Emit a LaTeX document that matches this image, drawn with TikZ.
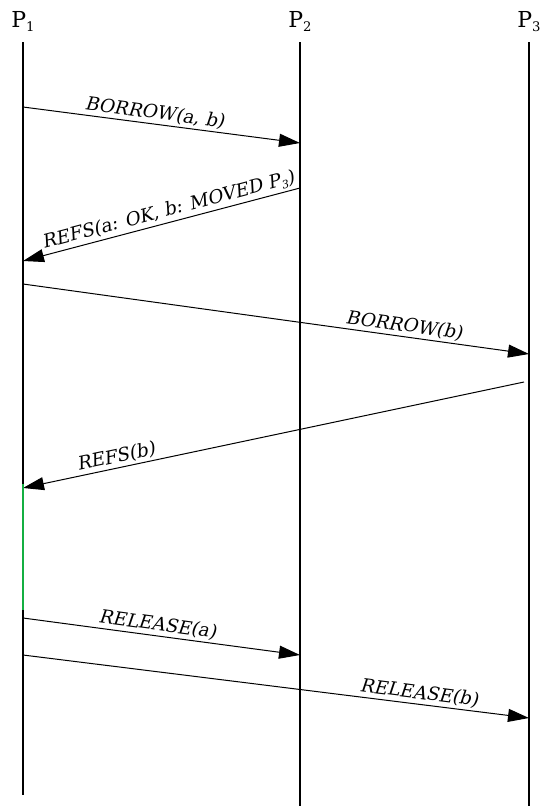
\documentclass[tikz,border=0pt]{standalone}
\usepackage{fontspec}
\setmainfont{DejaVu Serif}
\newfontfamily\msgfont{DejaVu Serif}[FakeSlant=0.2]
\usetikzlibrary{arrows.meta}

% index below the baseline, as in P_1
\newcommand\lowidx[1]{\raisebox{-0.4ex}{\scalebox{0.6}{#1}}}

\tikzset{
  lifeline/.style={line width=1.6pt},
  msg/.style={line width=1pt,-{Triangle[length=21pt,width=13pt]}},
  msglabel/.style={sloped,above,inner sep=2pt,font=\msgfont\fontsize{18.5}{20}\selectfont},
  proc/.style={anchor=base,inner sep=0pt,font=\fontsize{22}{24}\selectfont}
}

\begin{document}
\begin{tikzpicture}[x=1pt,y=1pt]
  \useasboundingbox (0,0) rectangle (539,-806);

  % process names
  \node[proc] (p1) at (23,-27) {P\lowidx{1}};
  \node[proc] (p2) at (300,-27) {P\lowidx{2}};
  \node[proc] (p3) at (529,-27) {P\lowidx{3}};

  % lifelines
  \coordinate (p1top) at (23,-42);
  \coordinate (p1bot) at (23,-795);
  \coordinate (p2top) at (300,-42);
  \coordinate (p2bot) at (300,-806);
  \coordinate (p3top) at (529,-42);
  \coordinate (p3bot) at (529,-806);
  \draw[lifeline] (p1top) -- (p1bot);
  \draw[lifeline] (p2top) -- (p2bot);
  \draw[lifeline] (p3top) -- (p3bot);

  % message end points
  \coordinate (borrowab_s) at (23,-107);
  \coordinate (borrowab_e) at (300,-143);
  \coordinate (refsab_s) at (300,-188);
  \coordinate (refsab_e) at (23,-261);
  \coordinate (borrowb_s) at (23,-284);
  \coordinate (borrowb_e) at (529,-354);
  \coordinate (refsb_s) at (524,-382);
  \coordinate (refsb_e) at (23,-488);
  \coordinate (releasea_s) at (23,-618);
  \coordinate (releasea_e) at (300,-655);
  \coordinate (releaseb_s) at (23,-655);
  \coordinate (releaseb_e) at (529,-718);

  % messages
  \draw[msg] (borrowab_s) -- node[msglabel,pos=0.47] {BORROW(a, b)} (borrowab_e);
  \draw[msg] (refsab_s) -- node[msglabel,pos=0.465] {REFS(a: OK, b: MOVED P\lowidx{3})} (refsab_e);
  \draw[msg] (borrowb_s) -- node[msglabel,pos=0.75] {BORROW(b)} (borrowb_e);
  \draw[msg] (refsb_s) -- node[msglabel,pos=0.81] {REFS(b)} (refsb_e);
  \draw[msg] (releasea_s) -- node[msglabel,pos=0.48] {RELEASE(a)} (releasea_e);
  \draw[msg] (releaseb_s) -- node[msglabel,pos=0.78] {RELEASE(b)} (releaseb_e);

  % P1 holds the borrowed values
  \coordinate (hold_s) at (23,-484);
  \coordinate (hold_e) at (23,-610);
  \draw[line width=2.6pt,color={rgb,255:red,20;green,175;blue,65}] (hold_s) -- (hold_e);

\end{tikzpicture}
\end{document}
